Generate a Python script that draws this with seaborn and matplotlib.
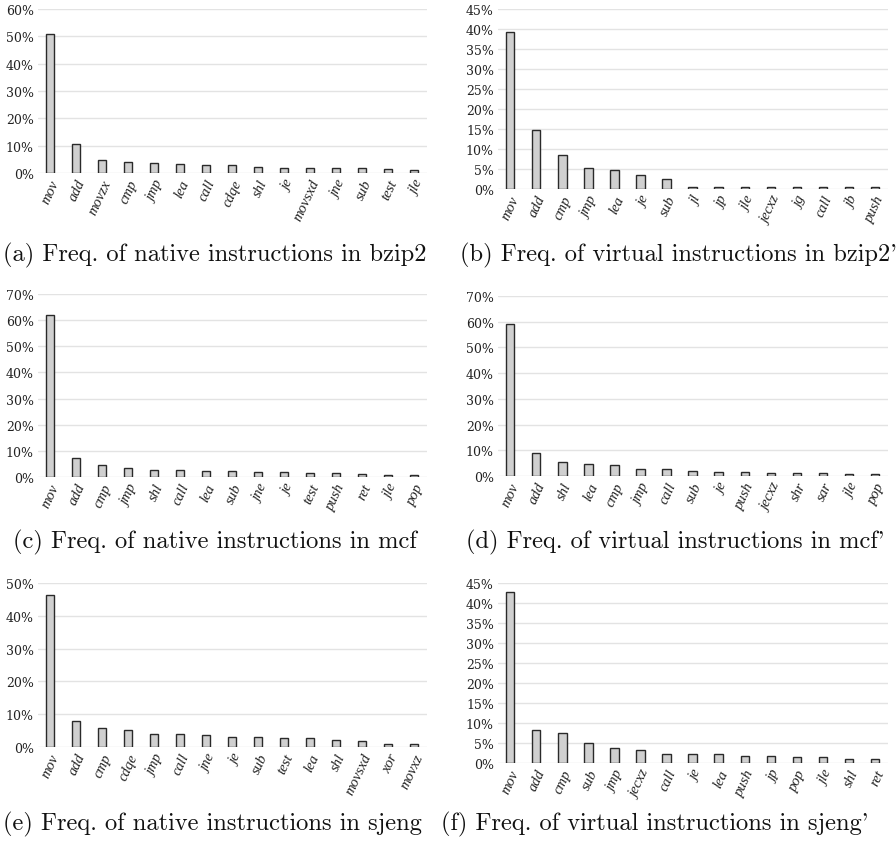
import matplotlib
matplotlib.use("Agg")
import matplotlib.pyplot as plt
import seaborn as sns
import pandas as pd
from matplotlib.ticker import PercentFormatter, MultipleLocator

# ---- data (percent) ----
a_labels = ["mov", "add", "movzx", "cmp", "jmp", "lea", "call", "cdqe", "shl", "je", "movsxd", "jne", "sub", "test", "jle"]
a_values = [51.0, 10.5, 4.9, 3.9, 3.5, 3.4, 3.0, 2.9, 2.2, 1.8, 1.8, 1.7, 1.7, 1.6, 1.0]

b_labels = ["mov", "add", "cmp", "jmp", "lea", "je", "sub", "jl", "jp", "jle", "jecxz", "jg", "call", "jb", "push"]
b_values = [39.2, 14.8, 8.4, 5.2, 4.7, 3.5, 2.5, 0.6, 0.6, 0.5, 0.5, 0.5, 0.5, 0.4, 0.4]

c_labels = ["mov", "add", "cmp", "jmp", "shl", "call", "lea", "sub", "jne", "je", "test", "push", "ret", "jle", "pop"]
c_values = [62.0, 7.1, 4.4, 3.5, 2.7, 2.7, 2.4, 2.2, 1.8, 1.8, 1.5, 1.4, 1.0, 0.9, 0.9]

d_labels = ["mov", "add", "shl", "lea", "cmp", "jmp", "call", "sub", "je", "push", "jecxz", "shr", "sar", "jle", "pop"]
d_values = [59.0, 9.0, 5.3, 4.5, 4.4, 2.7, 2.6, 2.1, 1.5, 1.4, 1.3, 1.2, 1.2, 0.9, 0.9]

e_labels = ["mov", "add", "cmp", "cdqe", "jmp", "call", "jne", "je", "sub", "test", "lea", "shl", "movsxd", "xor", "movxz"]
e_values = [46.4, 7.9, 5.8, 5.2, 4.1, 3.9, 3.6, 3.0, 2.9, 2.7, 2.7, 2.1, 1.9, 0.8, 0.8]

f_labels = ["mov", "add", "cmp", "sub", "jmp", "jecxz", "call", "je", "lea", "push", "jp", "pop", "jle", "shl", "ret"]
f_values = [42.8, 8.2, 7.5, 4.9, 3.8, 3.2, 2.3, 2.2, 2.2, 1.7, 1.7, 1.6, 1.5, 1.1, 1.0]

captions = [
    "(a) Freq. of native instructions in bzip2",
    "(b) Freq. of virtual instructions in bzip2'",
    "(c) Freq. of native instructions in mcf",
    "(d) Freq. of virtual instructions in mcf'",
    "(e) Freq. of native instructions in sjeng",
    "(f) Freq. of virtual instructions in sjeng'",
]
ymaxes = [60, 45, 70, 70, 50, 45]
ysteps = [10, 5, 10, 10, 10, 5]

sns.set_style("white")
plt.rcParams["font.family"] = ["DejaVu Serif"]

W, H = 896, 845
fig = plt.figure(figsize=(W / 100, H / 100), dpi=100)

# axes boxes in pixels: left, right, top, bottom
boxes = [
    (38, 427, 10, 174),
    (498, 888, 10, 190),
    (38, 427, 295, 478),
    (498, 888, 297, 477),
    (38, 427, 584, 748),
    (498, 888, 584, 764),
]
cap_pos = [(3, 255), (460, 255), (13, 542), (466, 542), (3, 824), (441, 824)]

panels = [(a_labels, a_values), (b_labels, b_values), (c_labels, c_values),
          (d_labels, d_values), (e_labels, e_values), (f_labels, f_values)]

for i, ((labs, vals), (l, r, t, b)) in enumerate(zip(panels, boxes)):
    ax = fig.add_axes([l / W, 1 - b / H, (r - l) / W, (b - t) / H])
    df = pd.DataFrame({"instr": labs, "freq": vals})
    sns.barplot(data=df, x="instr", y="freq", ax=ax, color="#d0d0d0",
                edgecolor="#2a2a2a", linewidth=1.0, width=0.32, saturation=1)
    ax.set_ylim(0, ymaxes[i])
    ax.set_xlim(-0.47, len(labs) - 0.5)
    ax.yaxis.set_major_locator(MultipleLocator(ysteps[i]))
    ax.yaxis.set_major_formatter(PercentFormatter(decimals=0))
    ax.grid(axis="y", color="#e3e3e3", linewidth=1.0)
    ax.set_axisbelow(True)
    for s in ax.spines.values():
        s.set_visible(False)
    ax.set_xlabel("")
    ax.set_ylabel("")
    ax.tick_params(axis="both", length=0, pad=3)
    for tl in ax.get_yticklabels():
        tl.set_fontsize(9)
        tl.set_color("#222222")
    ax.set_xticks(range(len(labs)))
    ax.set_xticklabels(labs, rotation=65, ha="right", rotation_mode="anchor",
                       fontsize=10.5, fontstyle="italic", family="Liberation Serif", color="#222222")
    cx, cy = cap_pos[i]
    fig.text(cx / W, 1 - cy / H, captions[i], family="cmr10", fontsize=17.6,
             ha="left", va="center", color="#111111")

fig.savefig("out.png", dpi=100)
